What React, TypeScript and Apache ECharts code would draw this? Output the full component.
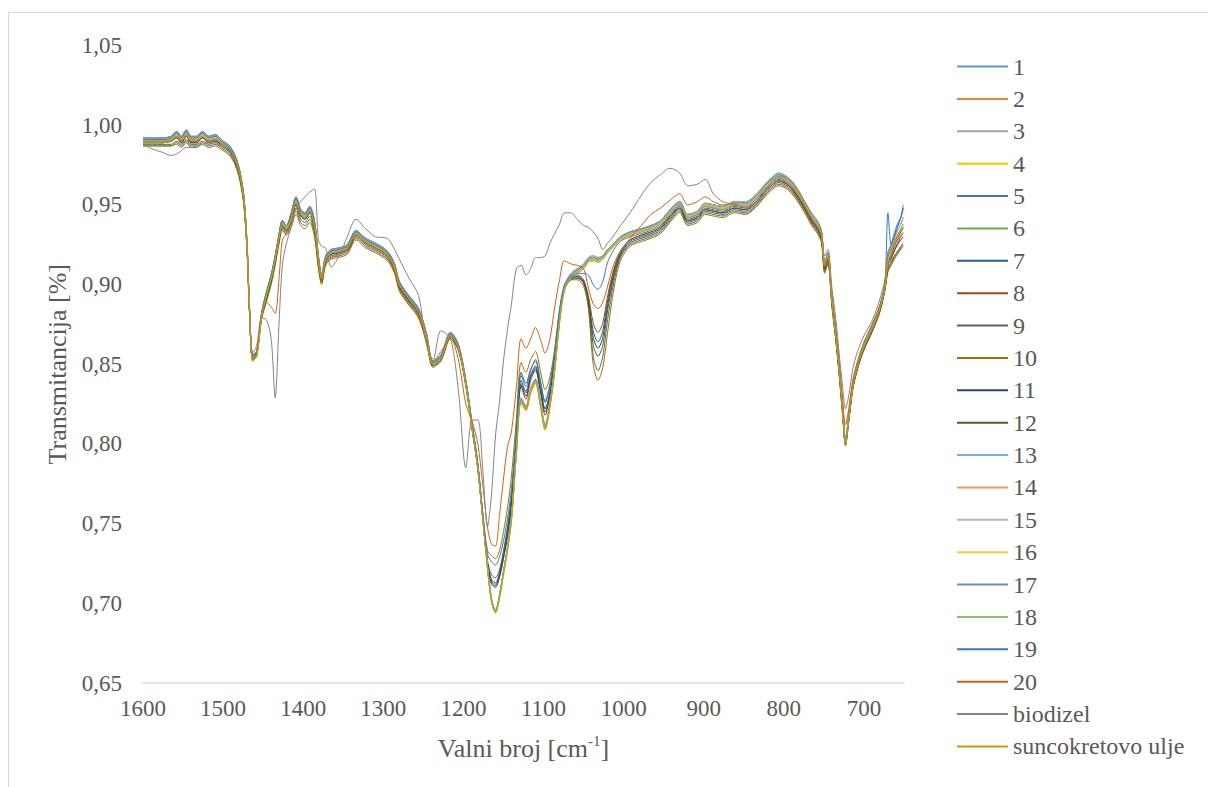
import React, { useEffect, useRef } from "react";
import * as echarts from "echarts";

const wavenumbers = [
  1600, 1588, 1576, 1565, 1558, 1552, 1546, 1540, 1533, 1526,
  1518, 1510, 1500, 1492, 1485, 1479, 1474, 1470, 1467, 1463,
  1458, 1452, 1446, 1440, 1435, 1430, 1426, 1421, 1415, 1409,
  1403, 1398, 1392, 1386, 1381, 1377, 1372, 1365, 1355, 1345,
  1334, 1322, 1310, 1295, 1286, 1280, 1268, 1256, 1246, 1238,
  1228, 1216, 1206, 1197, 1189, 1182, 1176, 1170, 1165, 1160,
  1155, 1150, 1145, 1140, 1134, 1128, 1122, 1116, 1110, 1104,
  1098, 1092, 1086, 1080, 1074, 1066, 1058, 1050, 1044, 1038,
  1032, 1026, 1020, 1012, 1004, 992, 978, 966, 954, 942,
  930, 920, 908, 898, 888, 876, 862, 848, 834, 820,
  806, 794, 784, 774, 764, 758, 753, 749, 745, 740,
  735, 731, 727, 723, 719, 714, 708, 700, 690, 680,
  674, 670, 666, 662, 658, 654, 651,
];

// light blue group (1, 5, 13, 17)
const groupBlue = [
  0.992, 0.992, 0.992, 0.993, 0.996, 0.993, 0.997, 0.993, 0.993, 0.996,
  0.993, 0.994, 0.990, 0.987, 0.981, 0.971, 0.955, 0.925, 0.885, 0.856,
  0.858, 0.882, 0.895, 0.906, 0.918, 0.932, 0.940, 0.937, 0.945, 0.955,
  0.947, 0.945, 0.949, 0.940, 0.918, 0.906, 0.918, 0.922, 0.923, 0.925,
  0.934, 0.929, 0.926, 0.921, 0.913, 0.902, 0.893, 0.885, 0.869, 0.852,
  0.856, 0.870, 0.862, 0.840, 0.812, 0.787, 0.756, 0.724, 0.703, 0.695,
  0.705, 0.720, 0.735, 0.755, 0.796, 0.828, 0.823, 0.834, 0.840, 0.826,
  0.811, 0.825, 0.848, 0.878, 0.898, 0.906, 0.909, 0.912, 0.916, 0.917,
  0.916, 0.918, 0.922, 0.926, 0.930, 0.933, 0.935, 0.937, 0.940, 0.947,
  0.952, 0.944, 0.946, 0.951, 0.950, 0.949, 0.952, 0.951, 0.956, 0.964,
  0.969, 0.966, 0.960, 0.952, 0.943, 0.939, 0.933, 0.914, 0.920, 0.892,
  0.870, 0.849, 0.826, 0.803, 0.818, 0.838, 0.851, 0.863, 0.874, 0.887,
  0.900, 0.920, 0.925, 0.932, 0.938, 0.942, 0.948,
];

// yellow group (4, 16, suncokretovo ulje)
const groupYellow = [
  0.990, 0.990, 0.990, 0.991, 0.994, 0.991, 0.995, 0.991, 0.991, 0.994,
  0.991, 0.992, 0.988, 0.985, 0.979, 0.969, 0.953, 0.923, 0.884, 0.852,
  0.855, 0.880, 0.893, 0.904, 0.916, 0.930, 0.938, 0.935, 0.942, 0.952,
  0.944, 0.942, 0.946, 0.937, 0.915, 0.904, 0.916, 0.920, 0.921, 0.923,
  0.932, 0.927, 0.924, 0.919, 0.911, 0.900, 0.891, 0.883, 0.867, 0.850,
  0.854, 0.868, 0.860, 0.838, 0.810, 0.785, 0.754, 0.722, 0.701, 0.694,
  0.703, 0.718, 0.733, 0.752, 0.793, 0.826, 0.821, 0.832, 0.838, 0.824,
  0.809, 0.823, 0.846, 0.876, 0.896, 0.904, 0.907, 0.910, 0.914, 0.915,
  0.914, 0.916, 0.920, 0.924, 0.928, 0.931, 0.933, 0.935, 0.938, 0.945,
  0.950, 0.942, 0.944, 0.949, 0.948, 0.947, 0.950, 0.949, 0.954, 0.962,
  0.967, 0.964, 0.958, 0.950, 0.941, 0.937, 0.931, 0.912, 0.918, 0.890,
  0.868, 0.847, 0.824, 0.800, 0.816, 0.836, 0.849, 0.861, 0.872, 0.885,
  0.898, 0.915, 0.920, 0.926, 0.930, 0.934, 0.936,
];

// orange / grey group (2, 3, 14, 15)
const groupLight = [
  0.991, 0.991, 0.991, 0.992, 0.995, 0.992, 0.996, 0.992, 0.992, 0.995,
  0.992, 0.993, 0.989, 0.986, 0.980, 0.970, 0.954, 0.924, 0.885, 0.855,
  0.857, 0.881, 0.894, 0.905, 0.917, 0.931, 0.939, 0.936, 0.944, 0.954,
  0.946, 0.944, 0.948, 0.939, 0.917, 0.905, 0.917, 0.921, 0.922, 0.924,
  0.933, 0.928, 0.925, 0.920, 0.912, 0.901, 0.892, 0.884, 0.868, 0.851,
  0.855, 0.869, 0.861, 0.839, 0.811, 0.786, 0.755, 0.723, 0.702, 0.696,
  0.704, 0.719, 0.734, 0.754, 0.795, 0.829, 0.824, 0.835, 0.841, 0.827,
  0.812, 0.826, 0.849, 0.879, 0.899, 0.907, 0.910, 0.913, 0.917, 0.918,
  0.917, 0.918, 0.921, 0.925, 0.929, 0.932, 0.934, 0.936, 0.939, 0.946,
  0.951, 0.943, 0.945, 0.950, 0.949, 0.948, 0.951, 0.950, 0.955, 0.963,
  0.968, 0.965, 0.959, 0.951, 0.942, 0.938, 0.932, 0.913, 0.919, 0.891,
  0.869, 0.848, 0.825, 0.802, 0.817, 0.837, 0.850, 0.862, 0.873, 0.886,
  0.899, 0.918, 0.923, 0.929, 0.934, 0.938, 0.942,
];

// green group (6, 18)
const groupGreen = [
  0.989, 0.989, 0.989, 0.990, 0.993, 0.990, 0.994, 0.990, 0.990, 0.993,
  0.990, 0.991, 0.988, 0.985, 0.979, 0.969, 0.953, 0.923, 0.884, 0.853,
  0.856, 0.881, 0.894, 0.905, 0.917, 0.931, 0.939, 0.936, 0.943, 0.953,
  0.945, 0.943, 0.947, 0.938, 0.916, 0.905, 0.917, 0.921, 0.922, 0.924,
  0.933, 0.928, 0.925, 0.920, 0.912, 0.901, 0.892, 0.884, 0.868, 0.851,
  0.855, 0.869, 0.861, 0.839, 0.811, 0.786, 0.755, 0.723, 0.702, 0.695,
  0.704, 0.719, 0.734, 0.753, 0.794, 0.827, 0.822, 0.833, 0.839, 0.825,
  0.810, 0.824, 0.847, 0.877, 0.897, 0.905, 0.908, 0.911, 0.915, 0.916,
  0.915, 0.917, 0.921, 0.925, 0.929, 0.932, 0.934, 0.936, 0.939, 0.946,
  0.951, 0.944, 0.946, 0.951, 0.950, 0.949, 0.952, 0.952, 0.957, 0.965,
  0.970, 0.967, 0.961, 0.952, 0.943, 0.939, 0.933, 0.913, 0.919, 0.891,
  0.869, 0.848, 0.825, 0.802, 0.817, 0.837, 0.850, 0.862, 0.873, 0.886,
  0.899, 0.917, 0.921, 0.927, 0.931, 0.935, 0.938,
];

const s7 = [
  0.990, 0.990, 0.990, 0.991, 0.993, 0.990, 0.994, 0.990, 0.990, 0.993,
  0.990, 0.991, 0.988, 0.985, 0.979, 0.969, 0.953, 0.923, 0.884, 0.854,
  0.857, 0.881, 0.893, 0.904, 0.916, 0.930, 0.938, 0.935, 0.942, 0.951,
  0.944, 0.942, 0.946, 0.937, 0.915, 0.904, 0.916, 0.920, 0.921, 0.923,
  0.932, 0.927, 0.924, 0.919, 0.911, 0.900, 0.891, 0.883, 0.867, 0.851,
  0.855, 0.869, 0.861, 0.839, 0.811, 0.786, 0.755, 0.726, 0.715, 0.713,
  0.719, 0.731, 0.745, 0.765, 0.803, 0.840, 0.833, 0.843, 0.849, 0.836,
  0.822, 0.833, 0.855, 0.882, 0.899, 0.905, 0.906, 0.903, 0.891, 0.871,
  0.864, 0.871, 0.890, 0.909, 0.920, 0.928, 0.931, 0.933, 0.936, 0.943,
  0.949, 0.941, 0.943, 0.948, 0.947, 0.946, 0.949, 0.948, 0.953, 0.961,
  0.966, 0.963, 0.957, 0.949, 0.940, 0.936, 0.930, 0.911, 0.917, 0.890,
  0.868, 0.847, 0.824, 0.801, 0.816, 0.836, 0.849, 0.861, 0.872, 0.885,
  0.898, 0.914, 0.919, 0.924, 0.929, 0.933, 0.935,
];

const s8 = [
  0.989, 0.989, 0.989, 0.990, 0.992, 0.989, 0.993, 0.989, 0.989, 0.992,
  0.989, 0.990, 0.987, 0.984, 0.978, 0.968, 0.952, 0.922, 0.883, 0.853,
  0.856, 0.880, 0.892, 0.903, 0.915, 0.929, 0.937, 0.934, 0.941, 0.950,
  0.943, 0.941, 0.945, 0.936, 0.914, 0.903, 0.915, 0.919, 0.920, 0.922,
  0.931, 0.926, 0.923, 0.918, 0.910, 0.899, 0.890, 0.882, 0.866, 0.850,
  0.854, 0.868, 0.860, 0.838, 0.810, 0.785, 0.754, 0.724, 0.712, 0.710,
  0.716, 0.728, 0.742, 0.762, 0.800, 0.836, 0.828, 0.840, 0.846, 0.833,
  0.818, 0.830, 0.852, 0.880, 0.898, 0.904, 0.905, 0.902, 0.893, 0.876,
  0.870, 0.876, 0.893, 0.910, 0.921, 0.928, 0.931, 0.933, 0.936, 0.943,
  0.948, 0.940, 0.942, 0.947, 0.946, 0.945, 0.948, 0.947, 0.952, 0.960,
  0.965, 0.962, 0.956, 0.948, 0.939, 0.935, 0.929, 0.910, 0.916, 0.889,
  0.867, 0.846, 0.823, 0.801, 0.816, 0.836, 0.849, 0.861, 0.872, 0.885,
  0.898, 0.913, 0.917, 0.922, 0.926, 0.930, 0.932,
];

const s9 = [
  0.987, 0.987, 0.987, 0.987, 0.989, 0.987, 0.990, 0.987, 0.987, 0.989,
  0.987, 0.988, 0.985, 0.982, 0.976, 0.966, 0.950, 0.920, 0.882, 0.853,
  0.856, 0.879, 0.890, 0.901, 0.913, 0.927, 0.935, 0.932, 0.938, 0.946,
  0.939, 0.937, 0.941, 0.932, 0.911, 0.901, 0.913, 0.917, 0.918, 0.920,
  0.929, 0.924, 0.921, 0.916, 0.908, 0.897, 0.888, 0.880, 0.864, 0.849,
  0.853, 0.867, 0.859, 0.837, 0.809, 0.784, 0.754, 0.725, 0.714, 0.712,
  0.718, 0.730, 0.744, 0.764, 0.802, 0.838, 0.832, 0.843, 0.848, 0.835,
  0.822, 0.832, 0.853, 0.880, 0.897, 0.903, 0.904, 0.901, 0.887, 0.855,
  0.846, 0.855, 0.878, 0.902, 0.917, 0.925, 0.928, 0.930, 0.933, 0.940,
  0.946, 0.938, 0.940, 0.945, 0.944, 0.943, 0.946, 0.945, 0.950, 0.958,
  0.963, 0.960, 0.954, 0.946, 0.937, 0.933, 0.927, 0.908, 0.914, 0.887,
  0.865, 0.844, 0.821, 0.799, 0.814, 0.834, 0.847, 0.859, 0.870, 0.883,
  0.896, 0.909, 0.913, 0.917, 0.920, 0.923, 0.925,
];

const s10 = [
  0.987, 0.987, 0.987, 0.987, 0.988, 0.986, 0.989, 0.986, 0.986, 0.988,
  0.986, 0.987, 0.984, 0.981, 0.975, 0.965, 0.949, 0.919, 0.881, 0.852,
  0.855, 0.878, 0.889, 0.900, 0.912, 0.926, 0.934, 0.931, 0.936, 0.944,
  0.937, 0.935, 0.939, 0.930, 0.910, 0.900, 0.912, 0.916, 0.917, 0.919,
  0.928, 0.923, 0.920, 0.915, 0.907, 0.896, 0.887, 0.879, 0.863, 0.848,
  0.852, 0.866, 0.858, 0.836, 0.808, 0.786, 0.758, 0.733, 0.730, 0.728,
  0.733, 0.745, 0.760, 0.780, 0.815, 0.851, 0.845, 0.853, 0.858, 0.846,
  0.834, 0.842, 0.860, 0.884, 0.898, 0.903, 0.903, 0.899, 0.885, 0.850,
  0.840, 0.848, 0.870, 0.898, 0.915, 0.924, 0.927, 0.929, 0.932, 0.939,
  0.945, 0.937, 0.939, 0.944, 0.943, 0.942, 0.945, 0.944, 0.949, 0.957,
  0.962, 0.959, 0.953, 0.945, 0.936, 0.932, 0.926, 0.907, 0.913, 0.886,
  0.864, 0.843, 0.820, 0.799, 0.814, 0.834, 0.847, 0.859, 0.870, 0.883,
  0.896, 0.908, 0.912, 0.916, 0.919, 0.922, 0.924,
];

const s11 = [
  0.989, 0.989, 0.989, 0.990, 0.992, 0.989, 0.993, 0.989, 0.989, 0.992,
  0.989, 0.990, 0.987, 0.984, 0.978, 0.968, 0.952, 0.922, 0.883, 0.853,
  0.856, 0.880, 0.892, 0.903, 0.915, 0.929, 0.937, 0.934, 0.941, 0.950,
  0.943, 0.941, 0.945, 0.936, 0.914, 0.903, 0.915, 0.919, 0.920, 0.922,
  0.931, 0.926, 0.923, 0.918, 0.910, 0.899, 0.890, 0.882, 0.866, 0.850,
  0.854, 0.868, 0.860, 0.838, 0.810, 0.785, 0.754, 0.725, 0.713, 0.711,
  0.717, 0.729, 0.743, 0.763, 0.801, 0.837, 0.830, 0.842, 0.847, 0.834,
  0.820, 0.831, 0.853, 0.881, 0.898, 0.904, 0.905, 0.902, 0.890, 0.867,
  0.860, 0.867, 0.887, 0.907, 0.919, 0.927, 0.930, 0.932, 0.935, 0.942,
  0.948, 0.940, 0.942, 0.947, 0.946, 0.945, 0.948, 0.947, 0.952, 0.960,
  0.965, 0.962, 0.956, 0.948, 0.939, 0.935, 0.929, 0.910, 0.916, 0.889,
  0.867, 0.846, 0.823, 0.800, 0.815, 0.835, 0.848, 0.860, 0.871, 0.884,
  0.897, 0.912, 0.916, 0.921, 0.925, 0.928, 0.930,
];

const s12 = [
  0.988, 0.988, 0.988, 0.988, 0.990, 0.988, 0.991, 0.988, 0.988, 0.990,
  0.988, 0.989, 0.986, 0.983, 0.977, 0.967, 0.951, 0.921, 0.882, 0.853,
  0.856, 0.879, 0.891, 0.902, 0.914, 0.928, 0.936, 0.933, 0.940, 0.948,
  0.941, 0.939, 0.943, 0.934, 0.913, 0.902, 0.914, 0.918, 0.919, 0.921,
  0.930, 0.925, 0.922, 0.917, 0.909, 0.898, 0.889, 0.881, 0.865, 0.849,
  0.853, 0.867, 0.859, 0.837, 0.809, 0.784, 0.754, 0.727, 0.718, 0.716,
  0.721, 0.733, 0.748, 0.768, 0.807, 0.845, 0.838, 0.847, 0.852, 0.839,
  0.826, 0.836, 0.856, 0.882, 0.898, 0.903, 0.904, 0.901, 0.889, 0.862,
  0.855, 0.862, 0.884, 0.905, 0.918, 0.926, 0.929, 0.931, 0.934, 0.941,
  0.947, 0.939, 0.941, 0.946, 0.945, 0.944, 0.947, 0.946, 0.951, 0.959,
  0.964, 0.961, 0.955, 0.947, 0.938, 0.934, 0.928, 0.909, 0.915, 0.888,
  0.866, 0.845, 0.822, 0.800, 0.815, 0.835, 0.848, 0.860, 0.871, 0.884,
  0.897, 0.910, 0.914, 0.918, 0.921, 0.924, 0.926,
];

const s19 = [
  0.991, 0.991, 0.991, 0.992, 0.995, 0.992, 0.996, 0.992, 0.992, 0.995,
  0.992, 0.993, 0.989, 0.986, 0.980, 0.970, 0.954, 0.924, 0.885, 0.855,
  0.857, 0.882, 0.895, 0.906, 0.918, 0.932, 0.940, 0.937, 0.944, 0.954,
  0.946, 0.944, 0.948, 0.939, 0.917, 0.905, 0.917, 0.921, 0.922, 0.924,
  0.933, 0.928, 0.925, 0.920, 0.912, 0.901, 0.892, 0.884, 0.868, 0.851,
  0.855, 0.869, 0.861, 0.839, 0.812, 0.788, 0.757, 0.731, 0.726, 0.724,
  0.729, 0.739, 0.753, 0.772, 0.806, 0.843, 0.836, 0.846, 0.853, 0.840,
  0.827, 0.838, 0.858, 0.884, 0.900, 0.905, 0.907, 0.907, 0.906, 0.900,
  0.897, 0.902, 0.914, 0.922, 0.927, 0.930, 0.932, 0.934, 0.937, 0.944,
  0.950, 0.942, 0.944, 0.949, 0.948, 0.947, 0.950, 0.949, 0.954, 0.962,
  0.967, 0.964, 0.958, 0.950, 0.941, 0.937, 0.931, 0.912, 0.918, 0.890,
  0.868, 0.847, 0.824, 0.801, 0.816, 0.836, 0.849, 0.861, 0.872, 0.885,
  0.898, 0.945, 0.925, 0.930, 0.936, 0.942, 0.950,
];

const s20 = [
  0.990, 0.990, 0.990, 0.990, 0.992, 0.990, 0.993, 0.990, 0.990, 0.992,
  0.990, 0.991, 0.987, 0.985, 0.979, 0.969, 0.953, 0.923, 0.884, 0.855,
  0.858, 0.880, 0.889, 0.886, 0.882, 0.905, 0.928, 0.932, 0.940, 0.951,
  0.944, 0.942, 0.946, 0.937, 0.914, 0.903, 0.914, 0.917, 0.919, 0.922,
  0.931, 0.926, 0.923, 0.918, 0.909, 0.897, 0.888, 0.880, 0.865, 0.852,
  0.858, 0.866, 0.852, 0.825, 0.814, 0.800, 0.775, 0.748, 0.737, 0.736,
  0.755, 0.778, 0.798, 0.808, 0.835, 0.866, 0.860, 0.866, 0.873, 0.866,
  0.857, 0.866, 0.886, 0.903, 0.915, 0.913, 0.912, 0.910, 0.898, 0.888,
  0.885, 0.889, 0.899, 0.913, 0.921, 0.929, 0.937, 0.944, 0.948, 0.953,
  0.957, 0.950, 0.952, 0.955, 0.952, 0.950, 0.951, 0.948, 0.952, 0.960,
  0.965, 0.963, 0.957, 0.949, 0.940, 0.936, 0.930, 0.911, 0.917, 0.893,
  0.872, 0.852, 0.830, 0.812, 0.822, 0.840, 0.852, 0.864, 0.875, 0.887,
  0.899, 0.912, 0.918, 0.924, 0.928, 0.931, 0.933,
];

const biodizel = [
  0.988, 0.985, 0.983, 0.981, 0.982, 0.984, 0.986, 0.986, 0.987, 0.988,
  0.989, 0.988, 0.987, 0.983, 0.978, 0.970, 0.952, 0.922, 0.884, 0.857,
  0.862, 0.879, 0.878, 0.866, 0.829, 0.878, 0.912, 0.926, 0.936, 0.948,
  0.952, 0.955, 0.958, 0.960, 0.928, 0.924, 0.923, 0.911, 0.918, 0.930,
  0.941, 0.935, 0.930, 0.929, 0.922, 0.916, 0.904, 0.893, 0.862, 0.853,
  0.871, 0.866, 0.832, 0.785, 0.815, 0.815, 0.785, 0.748, 0.768, 0.805,
  0.826, 0.852, 0.872, 0.888, 0.910, 0.912, 0.906, 0.910, 0.917, 0.917,
  0.918, 0.926, 0.932, 0.938, 0.945, 0.945, 0.941, 0.937, 0.936, 0.933,
  0.929, 0.922, 0.926, 0.931, 0.937, 0.945, 0.956, 0.964, 0.969, 0.973,
  0.970, 0.962, 0.963, 0.966, 0.957, 0.952, 0.950, 0.944, 0.950, 0.961,
  0.968, 0.966, 0.960, 0.952, 0.944, 0.940, 0.934, 0.918, 0.922, 0.898,
  0.878, 0.857, 0.838, 0.822, 0.830, 0.847, 0.858, 0.868, 0.877, 0.891,
  0.903, 0.918, 0.922, 0.927, 0.931, 0.934, 0.936,
];

const seriesNames = [
  "1", "2", "3", "4", "5", "6", "7", "8", "9", "10", "11",
  "12", "13", "14", "15", "16", "17", "18", "19", "20",
  "biodizel", "suncokretovo ulje",
];

const seriesColors = [
  "#5B9BD5", "#ED7D31", "#A5A5A5", "#FFC000", "#4472C4", "#70AD47",
  "#255E91", "#9E480E", "#636363", "#997300", "#264478", "#43682B",
  "#7CAFDD", "#F1975A", "#B7B7B7", "#FFCD33", "#698ED0", "#8CC168",
  "#327DC2", "#D26012", "#848484", "#CC9A00",
];

const seriesValues = [
  groupBlue, groupLight, groupLight, groupYellow, groupBlue, groupGreen,
  s7, s8, s9, s10, s11, s12,
  groupBlue, groupLight, groupLight, groupYellow, groupBlue, groupGreen,
  s19, s20, biodizel, groupYellow,
];

const xTickValues = [1600, 1500, 1400, 1300, 1200, 1100, 1000, 900, 800, 700];

const FONT = "Liberation Serif";
const TEXT = "#595959";

export default function App() {
  const ref = useRef<HTMLDivElement | null>(null);

  useEffect(() => {
    if (!ref.current) return;
    const chart = echarts.init(ref.current, undefined, { renderer: "svg" });

    const series = seriesNames.map((name, k) => {
      const vals = seriesValues[k];
      const data: number[][] = [];
      for (let i = 0; i < wavenumbers.length; i++) {
        if (vals[i] !== undefined) data.push([wavenumbers[i], vals[i]]);
      }
      return {
        type: "line",
        name,
        data,
        symbol: "none",
        showSymbol: false,
        smooth: 0.3,
        silent: true,
        lineStyle: { width: 1, color: seriesColors[k] },
        itemStyle: { color: seriesColors[k] },
        emphasis: { disabled: true },
      };
    });

    chart.setOption({
      animation: false,
      backgroundColor: "#ffffff",
      textStyle: { fontFamily: FONT },
      graphic: [
        {
          type: "rect",
          shape: { x: 8.5, y: 12.5, width: 1400, height: 1000 },
          style: { fill: "none", stroke: "#d9d9d9", lineWidth: 1 },
          silent: true,
          z: -10,
        },
      ],
      grid: { left: 143, right: 304, top: 45.5, bottom: 104, containLabel: false },
      xAxis: {
        type: "value",
        inverse: true,
        min: 650,
        max: 1600,
        axisLine: { show: true, onZero: false, lineStyle: { color: "#d9d9d9", width: 1.5 } },
        axisTick: { show: false },
        splitLine: { show: false },
        axisLabel: {
          customValues: xTickValues,
          color: TEXT,
          fontSize: 23,
          fontFamily: FONT,
          margin: 14,
          formatter: (v: number) => String(v),
        },
        name: "{b|Valni broj [cm}{sup|-1}{b|]}",
        nameLocation: "middle",
        nameGap: 50,
        nameTextStyle: {
          color: TEXT,
          fontSize: 26,
          fontFamily: FONT,
          rich: {
            b: { fontSize: 26, fontFamily: FONT, color: TEXT, lineHeight: 30 },
            sup: { fontSize: 15, fontFamily: FONT, color: TEXT, verticalAlign: "top", lineHeight: 15 },
          },
        },
      },
      yAxis: {
        type: "value",
        min: 0.65,
        max: 1.05,
        interval: 0.05,
        axisLine: { show: false },
        axisTick: { show: false },
        splitLine: { show: false },
        axisLabel: {
          color: TEXT,
          fontSize: 23,
          fontFamily: FONT,
          margin: 21,
          formatter: (v: number) => v.toFixed(2).replace(".", ","),
        },
        name: "Transmitancija [%]",
        nameLocation: "middle",
        nameGap: 70,
        nameTextStyle: { color: TEXT, fontSize: 26, fontFamily: FONT },
      },
      legend: {
        data: seriesNames,
        orient: "vertical",
        left: 957,
        top: 54.5,
        padding: 0,
        height: 735,
        itemWidth: 51,
        itemHeight: 2,
        icon: "rect",
        itemGap: 8.38,
        selectedMode: false,
        textStyle: { color: TEXT, fontSize: 24, fontFamily: FONT },
      },
      series,
    });

    return () => {
      chart.dispose();
    };
  }, []);

  return (
    <div
      ref={ref}
      style={{ position: "absolute", left: 0, top: 0, width: 1208, height: 787 }}
    />
  );
}
